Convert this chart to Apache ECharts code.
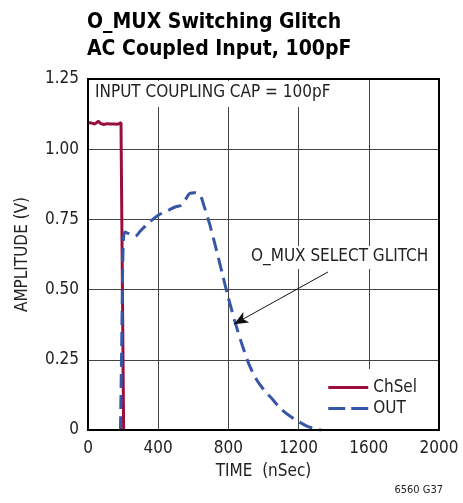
<!DOCTYPE html>
<html><head><meta charset="utf-8">
<script src="https://cdn.jsdelivr.net/npm/echarts@6/dist/echarts.min.js"></script>
<style>html,body{margin:0;padding:0;background:#fff}#c{width:463px;height:503px}</style>
</head><body><div id="c"></div>
<script>
const FONT = '"Liberation Sans Narrow","DejaVu Sans Condensed",sans-serif';
const xTicks = [0, 400, 800, 1200, 1600, 2000];
const yTicks = [0, 0.25, 0.5, 0.75, 1.0, 1.25];
const chselTime = [0,10,20,30,40,50,60,70,80,90,100,110,120,130,140,150,160,170,180,188,203];
const chselAmp  = [1.095,1.10,1.093,1.098,1.09,1.096,1.10,1.092,1.097,1.088,1.095,1.091,1.096,1.09,1.094,1.09,1.093,1.089,1.092,1.095,0];
const outTime = [185,192,200,210,230,268,300,350,400,450,500,530,555,580,610,640,660,690,720,760,800,840,880,920,960,1000,1050,1100,1150,1200,1250,1300,1330];
const outAmp  = [0,0.3,0.65,0.705,0.70,0.69,0.71,0.74,0.765,0.78,0.795,0.80,0.82,0.843,0.845,0.835,0.80,0.74,0.67,0.57,0.47,0.38,0.30,0.23,0.18,0.145,0.11,0.075,0.05,0.03,0.013,0.003,0];
const arrowFrom = [1368, 0.563];
const arrowTo = [832, 0.377];

const zip = (a, b) => a.map((v, i) => [v, b[i]]);
const chart = echarts.init(document.getElementById('c'));
chart.setOption({
  animation: false,
  title: [
    {text: 'O_MUX Switching Glitch\nAC Coupled Input, 100pF', left: 82, top: 4,
     textStyle: {fontFamily: FONT, fontWeight: 'bold', fontSize: 21, lineHeight: 27, color: '#000'}},
    {text: 'INPUT COUPLING CAP = 100pF', left: 90, top: 81, padding: [3, 6, 6, 5], backgroundColor: '#fff',
     textStyle: {fontFamily: FONT, fontWeight: 'normal', fontSize: 17, color: '#222'}},
    {text: 'O_MUX SELECT GLITCH', left: 247, top: 246, padding: [2, 4, 4, 4], backgroundColor: '#fff',
     textStyle: {fontFamily: FONT, fontWeight: 'normal', fontSize: 17, color: '#222'}},
    {text: '6560 G37', right: 20, top: 485, padding: 0,
     textStyle: {fontFamily: FONT, fontWeight: 'normal', fontSize: 11, color: '#222'}}
  ],
  legend: {
    right: 24, bottom: 74, orient: 'vertical', backgroundColor: '#fff',
    padding: [10, 22, 12, 8], itemGap: 4, itemWidth: 40, itemHeight: 14,
    itemStyle: {opacity: 0},
    textStyle: {fontFamily: FONT, fontSize: 17, color: '#222'},
    data: [
      {name: 'ChSel', lineStyle: {width: 3, color: '#9b0e3b'}},
      {name: 'OUT', lineStyle: {width: 3, color: '#3656a8', type: [17, 6]}}
    ]
  },
  grid: {left: 88, right: 24, top: 79, bottom: 73, show: true, borderColor: '#000', borderWidth: 2, z: 5},
  xAxis: {
    type: 'value', min: 0, max: 2000, interval: 400,
    name: 'TIME  (nSec)', nameLocation: 'middle', nameGap: 33,
    nameTextStyle: {fontFamily: FONT, fontSize: 17, color: '#222'},
    axisLine: {show: false}, axisTick: {show: false},
    axisLabel: {fontFamily: FONT, fontSize: 17, color: '#222', margin: 10,
      formatter: v => xTicks.includes(v) ? String(v) : ''},
    splitLine: {show: true, lineStyle: {color: '#444', width: 1}}
  },
  yAxis: {
    type: 'value', min: 0, max: 1.25, interval: 0.25,
    name: 'AMPLITUDE (V)', nameLocation: 'middle', nameGap: 57,
    nameTextStyle: {fontFamily: FONT, fontSize: 17, color: '#222'},
    axisLine: {show: false}, axisTick: {show: false},
    axisLabel: {fontFamily: FONT, fontSize: 17, color: '#222', margin: 9,
      formatter: v => { const t = yTicks.find(y => Math.abs(y - v) < 1e-9); return t === undefined ? '' : (t === 0 ? '0' : t.toFixed(2)); }},
    splitLine: {show: true, lineStyle: {color: '#444', width: 1}}
  },
  series: [
    {name: 'ChSel', type: 'line', data: zip(chselTime, chselAmp), showSymbol: false, symbol: 'none', z: 3,
     lineStyle: {color: '#9b0e3b', width: 3}, itemStyle: {color: '#9b0e3b'}},
    {name: 'OUT', type: 'line', data: zip(outTime, outAmp), showSymbol: false, symbol: 'none', smooth: 0.3, z: 4,
     lineStyle: {color: '#3656a8', width: 3, type: [14, 7]}, itemStyle: {color: '#3656a8'},
     markLine: {silent: true, symbol: ['none', 'arrow'], symbolSize: [9, 14], label: {show: false},
       lineStyle: {color: '#111', width: 1, type: 'solid'},
       data: [[{coord: arrowFrom}, {coord: arrowTo}]]}}
  ]
});
</script></body></html>
